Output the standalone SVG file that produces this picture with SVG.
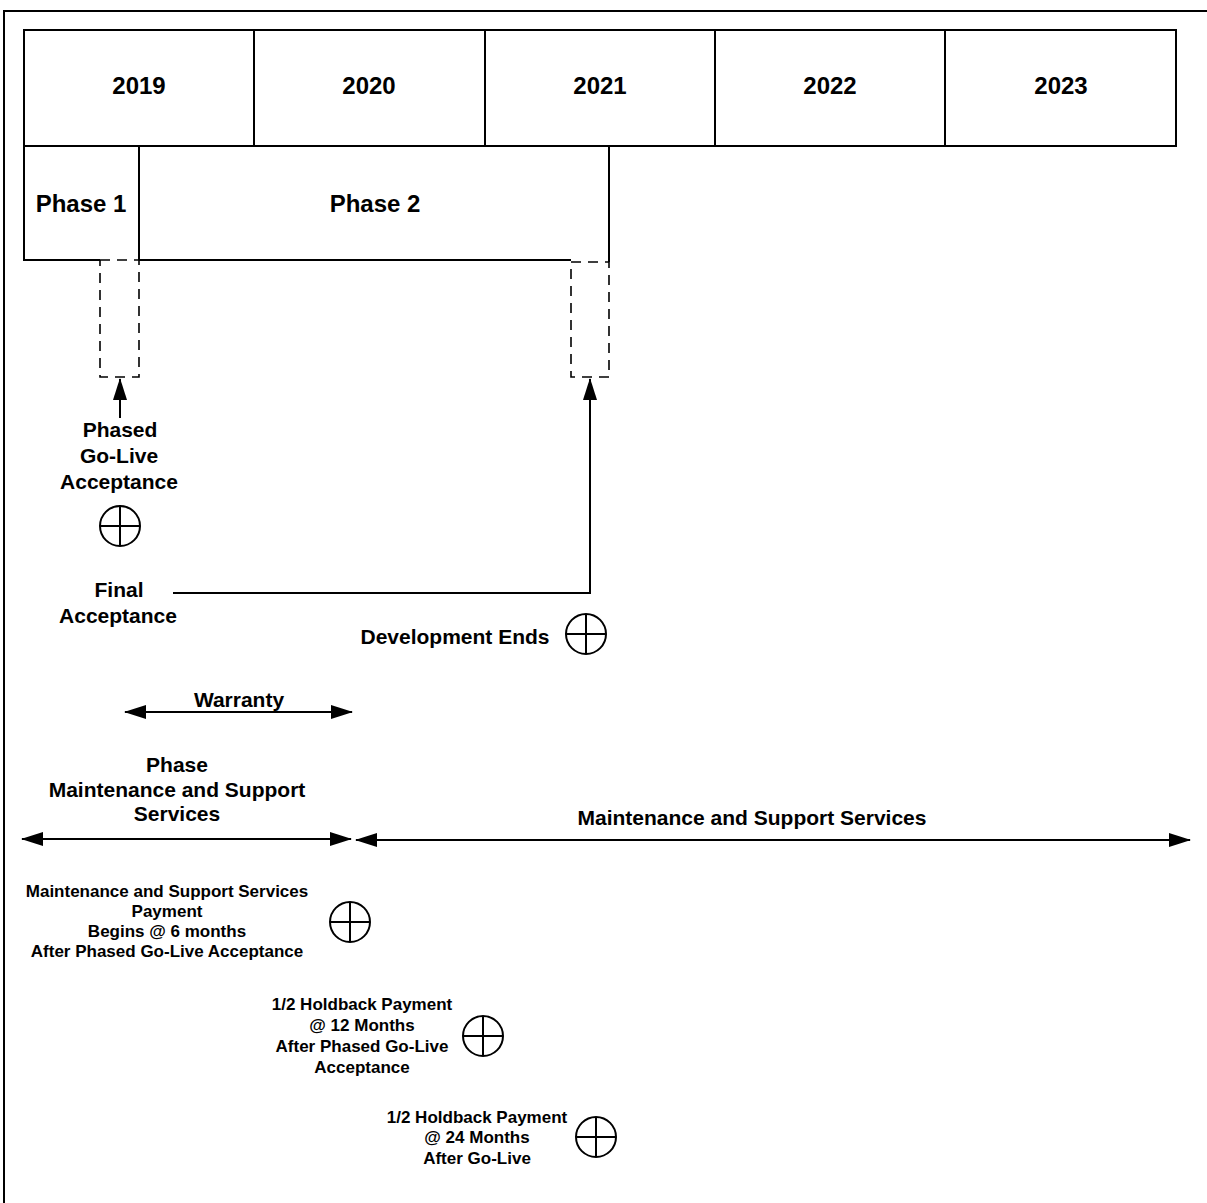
<svg xmlns="http://www.w3.org/2000/svg" width="1207" height="1203" viewBox="0 0 1207 1203">
<defs>
<style>
.ln{stroke:#000;stroke-width:2;fill:none}
.box{stroke:#000;stroke-width:2;fill:#fff}
.dash{stroke:#000;stroke-width:1.6;fill:none;stroke-dasharray:10,7}
.t{font-family:"Liberation Sans",Arial,sans-serif;font-weight:bold;fill:#000;text-anchor:middle}
.yr{font-size:24px}
.lg{font-size:21px}
.sm{font-size:17px}
.ms{stroke:#000;stroke-width:2;fill:none}
</style>
<marker id="ah" markerUnits="userSpaceOnUse" markerWidth="22" markerHeight="14" refX="21" refY="7" orient="auto-start-reverse" viewBox="0 0 22 14">
<path d="M0,0 L22,7 L0,14 Z" fill="#000"/>
</marker>
<g id="milestone">
<circle cx="0" cy="0" r="20" class="ms"/>
<line x1="-20" y1="0" x2="20" y2="0" class="ms"/>
<line x1="0" y1="-20" x2="0" y2="20" class="ms"/>
</g>
</defs>
<rect width="1207" height="1203" fill="#fff"/>
<g id="frame">
<path class="ln" d="M4,1203 V11 H1207"/>
</g>
<g id="years">
<g id="y2019"><rect class="box" x="24" y="30" width="230" height="116"/><text class="t yr" x="139" y="94">2019</text></g>
<g id="y2020"><rect class="box" x="254" y="30" width="231" height="116"/><text class="t yr" x="369" y="94">2020</text></g>
<g id="y2021"><rect class="box" x="485" y="30" width="230" height="116"/><text class="t yr" x="600" y="94">2021</text></g>
<g id="y2022"><rect class="box" x="715" y="30" width="230" height="116"/><text class="t yr" x="830" y="94">2022</text></g>
<g id="y2023"><rect class="box" x="945" y="30" width="231" height="116"/><text class="t yr" x="1061" y="94">2023</text></g>
</g>
<g id="phases">
<g id="phase1">
<path class="ln" d="M24,146 V260 H100"/>
<line class="ln" x1="139" y1="146" x2="139" y2="260"/>
<text class="t yr" x="81" y="212">Phase 1</text>
</g>
<g id="phase2">
<path class="ln" d="M139,260 H571"/>
<line class="ln" x1="609" y1="146" x2="609" y2="262"/>
<text class="t yr" x="375" y="212">Phase 2</text>
</g>
<g id="golive-window">
<path class="dash" d="M100,260 H139 V377 H100 Z"/>
</g>
<g id="final-window">
<path class="dash" d="M571,262 H609 V377 H571 Z"/>
</g>
</g>
<g id="connectors">
<line class="ln" x1="120" y1="418" x2="120" y2="379" marker-end="url(#ah)"/>
<path class="ln" d="M173,593 H590 V379" marker-end="url(#ah)"/>
<line class="ln" x1="125" y1="712" x2="352" y2="712" marker-start="url(#ah)" marker-end="url(#ah)"/>
<line class="ln" x1="22" y1="839" x2="351" y2="839" marker-start="url(#ah)" marker-end="url(#ah)"/>
<line class="ln" x1="356" y1="840" x2="1190" y2="840" marker-start="url(#ah)" marker-end="url(#ah)"/>
</g>
<g id="phased-golive">
<text class="t lg" x="120" y="437">Phased</text>
<text class="t lg" x="119" y="463">Go-Live</text>
<text class="t lg" x="119" y="489">Acceptance</text>
<use href="#milestone" x="120" y="526"/>
</g>
<g id="final-acceptance">
<text class="t lg" x="119" y="597">Final</text>
<text class="t lg" x="118" y="623">Acceptance</text>
</g>
<g id="development-ends">
<text class="t lg" x="455" y="644">Development Ends</text>
<use href="#milestone" x="586" y="634"/>
</g>
<g id="warranty">
<text class="t lg" x="239" y="707">Warranty</text>
</g>
<g id="phase-maint">
<text class="t lg" x="177" y="772">Phase</text>
<text class="t lg" x="177" y="797">Maintenance and Support</text>
<text class="t lg" x="177" y="821">Services</text>
</g>
<g id="maint">
<text class="t lg" x="752" y="825">Maintenance and Support Services</text>
</g>
<g id="maint-payment">
<text class="t sm" x="167" y="897">Maintenance and Support Services</text>
<text class="t sm" x="167" y="917">Payment</text>
<text class="t sm" x="167" y="937">Begins @ 6 months</text>
<text class="t sm" x="167" y="957">After Phased Go-Live Acceptance</text>
<use href="#milestone" x="350" y="922"/>
</g>
<g id="holdback-12">
<text class="t sm" x="362" y="1010">1/2 Holdback Payment</text>
<text class="t sm" x="362" y="1031">@ 12 Months</text>
<text class="t sm" x="362" y="1052">After Phased Go-Live</text>
<text class="t sm" x="362" y="1073">Acceptance</text>
<use href="#milestone" x="483" y="1036"/>
</g>
<g id="holdback-24">
<text class="t sm" x="477" y="1123">1/2 Holdback Payment</text>
<text class="t sm" x="477" y="1143">@ 24 Months</text>
<text class="t sm" x="477" y="1164">After Go-Live</text>
<use href="#milestone" x="596" y="1137"/>
</g>
</svg>
